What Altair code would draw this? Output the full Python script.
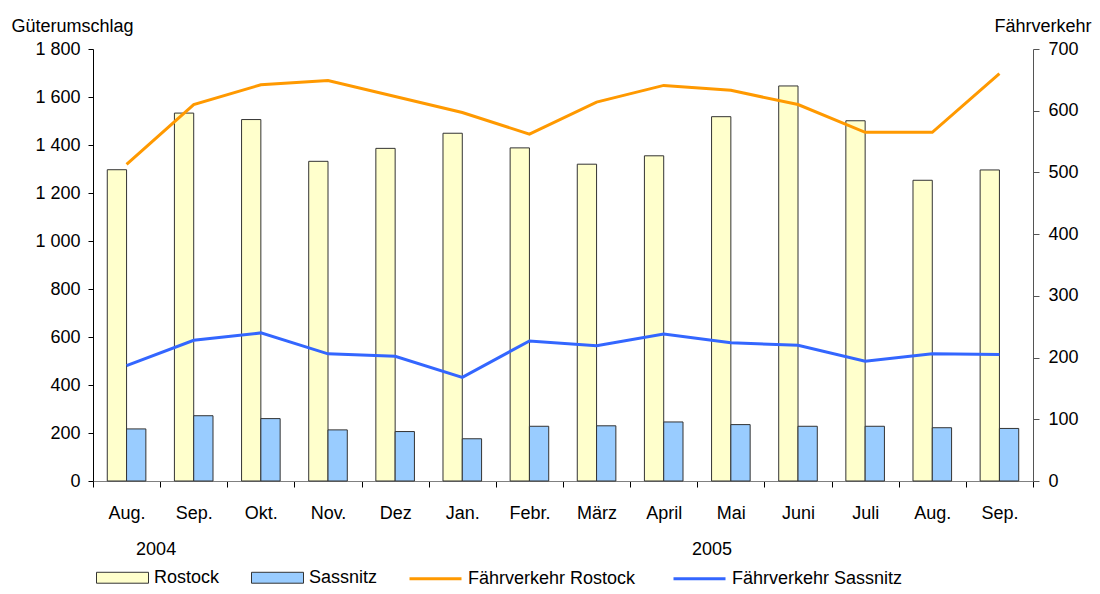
import altair as alt
import pandas as pd

FONT = "Liberation Sans"

# ---- data -------------------------------------------------------------
months = ["Aug.", "Sep.", "Okt.", "Nov.", "Dez", "Jan.", "Febr.", "März",
          "April", "Mai", "Juni", "Juli", "Aug.", "Sep."]
years = ["2004"] * 5 + ["2005"] * 9
rostock = [1297, 1533, 1506, 1332, 1386, 1449, 1388, 1320, 1355, 1518, 1646, 1501, 1253, 1296]
sassnitz = [217, 272, 260, 213, 206, 176, 228, 230, 246, 235, 228, 228, 222, 219]
faehr_rostock = [513, 610, 642, 649, 623, 597, 562, 614, 641, 633, 610, 565, 565, 660]
faehr_sassnitz = [187, 228, 240, 206, 202, 168, 227, 219, 238, 224, 220, 194, 206, 205]
bar_series = ["Rostock", "Sassnitz"]
line_series = ["Fährverkehr Rostock", "Fährverkehr Sassnitz"]
bar_colors = ["#FFFFCC", "#99CCFF"]
line_colors = ["#FF9900", "#3366FF"]
left_ticks = [0, 200, 400, 600, 800, 1000, 1200, 1400, 1600, 1800]
right_ticks = [0, 100, 200, 300, 400, 500, 600, 700]
year_labels = ["2004", "2005"]

keys = [f"{m} {y}" for m, y in zip(months, years)]

bars_df = pd.DataFrame({
    "key": keys * 2,
    "series": [bar_series[0]] * len(keys) + [bar_series[1]] * len(keys),
    "value": rostock + sassnitz,
})
lines_df = pd.DataFrame({
    "key": keys * 2,
    "series": [line_series[0]] * len(keys) + [line_series[1]] * len(keys),
    "value": faehr_rostock + faehr_sassnitz,
})

x_scale = alt.Scale(domain=keys, paddingInner=0, paddingOuter=0)
x_axis = alt.Axis(
    title=None, labelExpr="split(datum.label, ' ')[0]", tickBand="extent",
    tickSize=6, labelPadding=17, labelAngle=0, domainColor="#808080",
    tickColor="#000000", labelFontSize=18, labelFont=FONT, labelColor="#000000",
)


def xenc(**kw):
    return alt.X("key:N", scale=x_scale, axis=x_axis, sort=keys, **kw)


common_leg = dict(
    title=None, orient="none", legendY=502, direction="horizontal",
    columns=2, symbolSize=2704, labelOffset=5, labelFontSize=18,
    labelFont=FONT, labelColor="#000000", labelLimit=400, padding=0,
)
bar_legend = alt.Legend(legendX=3, columnPadding=29, symbolType="M-1,-0.21H1V0.21H-1Z",
                        symbolStrokeColor="#333333", symbolStrokeWidth=1, **common_leg)
line_legend = alt.Legend(legendX=315, columnPadding=31, symbolType="M-1,0H1",
                         symbolStrokeWidth=3, **common_leg)

bars = alt.Chart(bars_df).mark_bar(stroke="#333333", strokeWidth=1).encode(
    x=xenc(),
    xOffset=alt.XOffset("series:N", scale=alt.Scale(domain=bar_series,
                                                     paddingOuter=0.74, paddingInner=0)),
    y=alt.Y("value:Q", scale=alt.Scale(domain=[0, 1800], nice=False),
            axis=alt.Axis(title="Güterumschlag", values=left_ticks,
                          labelExpr="replace(format(datum.value, ','), ',', ' ')",
                          titleAngle=0, titleAlign="left", titleBaseline="alphabetic",
                          titleX=-82, titleY=-18, titleFontSize=18, titleFont=FONT,
                          titleFontWeight="normal", titleColor="#000000",
                          tickSize=5, labelPadding=8, domainColor="#000000",
                          tickColor="#000000", grid=False, labelFontSize=18,
                          labelFont=FONT, labelColor="#000000")),
    fill=alt.Fill("series:N", scale=alt.Scale(domain=bar_series, range=bar_colors),
                  legend=bar_legend),
)

lines = alt.Chart(lines_df).mark_line(strokeWidth=3).encode(
    x=xenc(),
    y=alt.Y("value:Q", scale=alt.Scale(domain=[0, 700], nice=False),
            axis=alt.Axis(title="Fährverkehr", orient="right", values=right_ticks,
                          titleAngle=0, titleAlign="right", titleBaseline="alphabetic",
                          titleX=58, titleY=-18, titleFontSize=18, titleFont=FONT,
                          titleFontWeight="normal", titleColor="#000000",
                          tickSize=6, labelPadding=9, domainColor="#555555",
                          tickColor="#555555", grid=False, labelFontSize=18,
                          labelFont=FONT, labelColor="#000000")),
    stroke=alt.Stroke("series:N", scale=alt.Scale(domain=line_series, range=line_colors),
                      legend=line_legend),
)

text_style = dict(fontSize=18, font=FONT, color="#000000", baseline="middle", align="center")
y2004 = alt.Chart(pd.DataFrame({"key": [keys[0]], "year": [year_labels[0]]})).mark_text(**text_style).encode(
    x=xenc(bandPosition=0.94), y=alt.value(501), text="year:N")
y2005 = alt.Chart(pd.DataFrame({"key": [keys[9]], "year": [year_labels[1]]})).mark_text(**text_style).encode(
    x=xenc(bandPosition=0.22), y=alt.value(501), text="year:N")

chart = alt.layer(bars, lines, y2004, y2005).resolve_scale(
    y="independent"
).properties(
    width=940, height=432,
    autosize=alt.AutoSizeParams(type="none"),
    padding={"left": 85, "top": 41, "right": 59, "bottom": 105},
).configure_view(stroke=None)

chart.save("out.html", embed_options={"renderer": "svg", "actions": False})
